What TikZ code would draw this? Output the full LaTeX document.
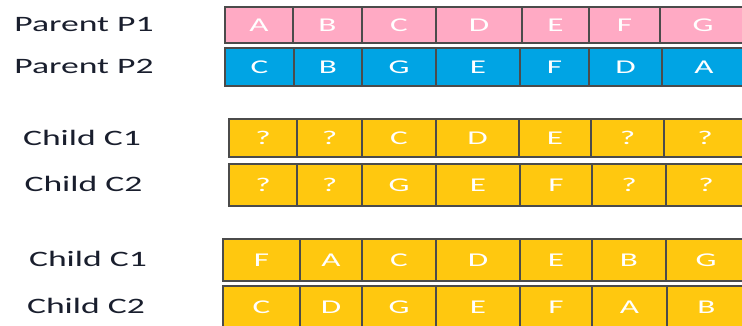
\documentclass[tikz,border=0pt]{standalone}
\usepackage{fontspec}
\usepackage{tikz}
\usetikzlibrary{positioning}
\usepackage{xcolor}
\newfontfamily\lblfont[FakeStretch=1.62]{Carlito}
\newfontfamily\cellfont[FakeStretch=1.7]{Carlito}
\definecolor{pinkfill}{RGB}{255,170,196}
\definecolor{bluefill}{RGB}{0,164,228}
\definecolor{goldfill}{RGB}{255,200,15}
\definecolor{cellline}{RGB}{75,75,75}
\definecolor{labelink}{RGB}{25,30,45}

\tikzset{
  cell/.style={draw=cellline, line width=1.2pt, inner sep=0pt,
    text=white, font=\cellfont\fontsize{19.5}{22}\selectfont},
  rowlabel/.style={anchor=base, text=labelink,
    font=\lblfont\fontsize{22}{26}\selectfont},
}

\begin{document}
\begin{tikzpicture}[x=1pt, y=-1pt]
  \useasboundingbox (0,0) rectangle (742,325);
  \clip (0,0) rectangle (742,325);
  % row labels
  \node[rowlabel] (lp1) at (84,31.7) {Parent P1};
  \node[rowlabel] (lp2) at (84,73) {Parent P2};
  \node[rowlabel] (lc1a) at (82,145) {Child C1};
  \node[rowlabel] (lc2a) at (83.5,191.5) {Child C2};
  \node[rowlabel] (lc1b) at (88,266) {Child C1};
  \node[rowlabel] (lc2b) at (86,313) {Child C2};
  % parent P1
  \foreach \k/\xa/\xb/\lab in {1/225/293/A, 2/293/362/B, 3/362/436/C,
      4/436/522/D, 5/522/589/E, 6/589/660/F, 7/660/746/G} {
    \node[cell, fill=pinkfill, minimum width={(\xb-\xa)*1pt},
      minimum height=36pt] (pa\k) at ({(\xa+\xb)/2},25) {\lab};
  }
  % parent P2
  \foreach \k/\xa/\xb/\lab in {1/225/294/C, 2/294/362/B, 3/362/436/G,
      4/436/520/E, 5/520/589/F, 6/589/662/D, 7/662/746/A} {
    \node[cell, fill=bluefill, minimum width={(\xb-\xa)*1pt},
      minimum height=38pt] (pb\k) at ({(\xa+\xb)/2},67) {\lab};
  }
  % child C1, middle part copied
  \foreach \k/\xa/\xb/\lab in {1/229/297/?, 2/297/362/?, 3/362/436/C,
      4/436/519/D, 5/519/591/E, 6/591/664/?, 7/664/746/?} {
    \node[cell, fill=goldfill, minimum width={(\xb-\xa)*1pt},
      minimum height=38pt] (ca\k) at ({(\xa+\xb)/2},138) {\lab};
  }
  % child C2, middle part copied
  \foreach \k/\xa/\xb/\lab in {1/229/297/?, 2/297/362/?, 3/362/436/G,
      4/436/520/E, 5/520/592/F, 6/592/666/?, 7/666/746/?} {
    \node[cell, fill=goldfill, minimum width={(\xb-\xa)*1pt},
      minimum height=42pt] (cb\k) at ({(\xa+\xb)/2},185) {\lab};
  }
  % child C1, filled
  \foreach \k/\xa/\xb/\lab in {1/223/300/F, 2/300/362/A, 3/362/436/C,
      4/436/520/D, 5/520/592/E, 6/592/666/B, 7/666/746/G} {
    \node[cell, fill=goldfill, minimum width={(\xb-\xa)*1pt},
      minimum height=42pt] (cc\k) at ({(\xa+\xb)/2},260) {\lab};
  }
  % child C2, filled
  \foreach \k/\xa/\xb/\lab in {1/223/300/C, 2/300/362/D, 3/362/436/G,
      4/436/520/E, 5/520/592/F, 6/592/667/A, 7/667/746/B} {
    \node[cell, fill=goldfill, minimum width={(\xb-\xa)*1pt},
      minimum height=42pt] (cd\k) at ({(\xa+\xb)/2},307) {\lab};
  }
\end{tikzpicture}
\end{document}
